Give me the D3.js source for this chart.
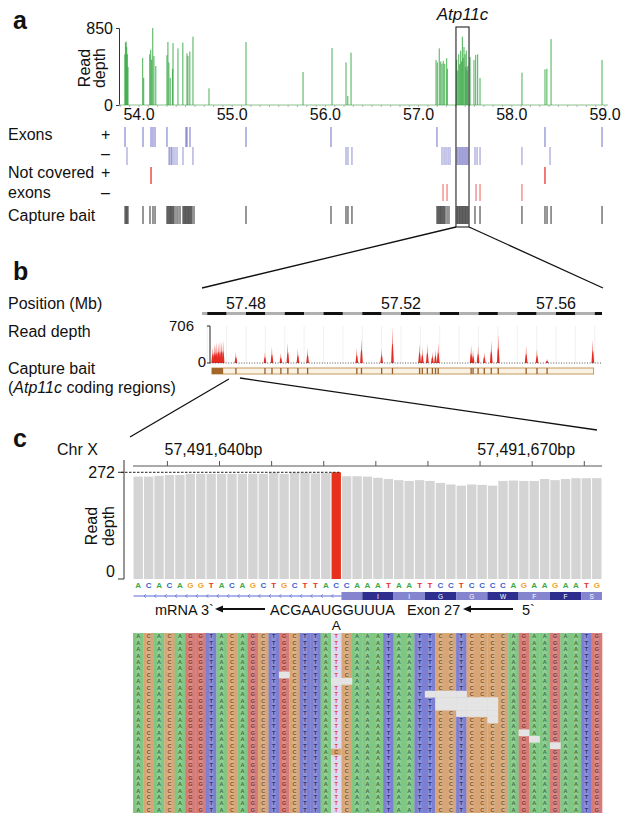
<!DOCTYPE html>
<html><head><meta charset="utf-8">
<script src="https://cdn.jsdelivr.net/npm/d3@7"></script>
<style>
body{margin:0;background:#fff}
svg{display:block}
text{font-family:"Liberation Sans",Arial,Helvetica,sans-serif;fill:#111}
</style>
</head><body>
<svg id="chart" width="629" height="823"></svg>
<script>
// ---------------- DATA ----------------
// Panel a: read depth (chr X, Mb)
const aTicks = [54.0, 55.0, 56.0, 57.0, 58.0, 59.0];
const aDepthMax = 850;
const greenPos = [53.848,53.855,53.862,53.868,53.875,53.882,54.039,54.05,54.115,54.125,54.135,54.147,54.16,54.18,54.30,54.31,54.32,54.335,54.36,54.365,54.418,54.47,54.515,54.525,54.545,54.579,54.751,55.148,55.76,56.071,56.221,56.24,56.275,57.187,57.201,57.222,57.237,57.251,57.265,57.28,57.301,57.308,57.408,57.42,57.43,57.44,57.451,57.46,57.47,57.478,57.487,57.498,57.505,57.512,57.52,57.527,57.552,57.594,57.612,57.633,57.659,58.109,58.356,58.376,58.421,58.968];
const greenDepth = [560,690,700,640,560,420,520,300,560,610,500,850,540,430,550,695,470,300,400,684,625,688,570,540,590,755,184,695,364,629,471,100,578,497,470,625,480,455,486,455,516,400,500,380,560,450,600,480,755,520,640,560,420,600,380,430,530,497,552,560,298,357,393,400,728,497];
const exonPlus = [53.850,54.043,54.129,54.150,54.172,54.300,54.504,54.515,54.547,55.148,56.060,57.197,58.356,58.968];
const exonMinus = [53.871,54.322,54.333,54.349,54.365,54.386,54.408,54.472,54.579,56.221,56.242,56.285,57.251,57.273,57.294,57.316,57.337,57.412,57.422,57.434,57.444,57.455,57.466,57.476,57.487,57.498,57.508,57.519,57.530,57.605,57.627,57.659,58.109,58.410];
const notCovPlus = [54.129, 58.356];
const notCovMinus = [57.262,57.305,57.616,57.659,58.109];
const baitA = [53.850,53.861,53.871,53.882,54.043,54.118,54.150,54.172,54.300,54.311,54.322,54.333,54.343,54.354,54.365,54.376,54.397,54.418,54.440,54.472,54.483,54.494,54.504,54.515,54.526,54.536,54.547,54.558,54.569,54.590,55.148,56.060,56.221,56.242,56.285,57.197,57.208,57.219,57.230,57.240,57.251,57.262,57.273,57.284,57.305,57.326,57.412,57.422,57.434,57.444,57.455,57.466,57.476,57.487,57.498,57.508,57.519,57.530,57.605,57.659,58.109,58.356,58.378,58.421,58.968];
const geneBox = [57.401, 57.541];
const geneName = "Atp11c";

// Panel b: Atp11c zoom
const bTicks = [57.48, 57.52, 57.56];
const bDepthMax = 706;
const redPos = [57.4714,57.4718,57.4722,57.4725,57.4729,57.4733,57.4737,57.4741,57.4774,57.4849,57.4867,57.4890,57.4908,57.4934,57.4959,57.5086,57.5098,57.5150,57.5178,57.5248,57.5255,57.5268,57.5281,57.5289,57.5296,57.5381,57.5386,57.5399,57.5415,57.5433,57.5451,57.5523,57.5551,57.5577,57.5695];
const redDepth = [300,370,330,400,380,420,410,430,210,210,305,190,380,275,275,280,465,265,687,362,290,362,210,250,380,340,250,325,210,420,553,325,265,80,440];
const baitBRange = [57.4712, 57.5697];
const baitBBlock = [57.4712, 57.4741];
const baitBExons = [57.4774,57.4849,57.4867,57.4890,57.4908,57.4934,57.4959,57.5086,57.5098,57.5150,57.5178,57.5248,57.5255,57.5268,57.5281,57.5289,57.5296,57.5381,57.5386,57.5399,57.5415,57.5433,57.5451,57.5523,57.5551,57.5577];

// Panel c: base-level view
const firstPos = 57491632;
const cLabelPos = [57491640, 57491670];
const refSeq = "ACACAGGTACAGCTGCTTACCAAATAATTCCTCCCCAGAAGAATG".split("");
const covC = [261,261,263,265,265,268,268,268,268,268,268,268,268,271,268,271,271,269,270,272,262,262,261,258,255,252,250,252,250,245,241,238,241,240,238,250,251,250,250,255,252,255,257,257,257];
const cDepthMax = 272;
const mutIndex = 19;
const mutBase = "T";
const aminoAcids = ["", "I", "I", "G", "G", "W", "F", "F", "S"];
const codonStarts = [20, 22, 25, 28, 31, 34, 37, 40, 43];
const readRows = 28;
const gaps = [[14,14,6],[19,20,7],[28,31,9],[29,34,10],[29,34,11],[31,34,12],[34,34,13],[37,37,15],[38,38,16],[40,40,17]];
const mismatches = [[19,18,"C"]];

// ---------------- DRAW ----------------
const svg = d3.select("#chart");
function T(x, y, s, o = {}) {
  const t = svg.append("text").attr("x", x).attr("y", y).text(s)
    .attr("font-size", o.size || 16).attr("text-anchor", o.anchor || "start");
  if (o.weight) t.attr("font-weight", o.weight);
  if (o.style) t.attr("font-style", o.style);
  if (o.fill) t.style("fill", o.fill);
  if (o.rot) t.attr("transform", `rotate(${o.rot},${x},${y})`);
  return t;
}
function line(x1, y1, x2, y2, stroke = "#111", w = 1, dash) {
  const l = svg.append("line").attr("x1", x1).attr("y1", y1).attr("x2", x2).attr("y2", y2)
    .attr("stroke", stroke).attr("stroke-width", w);
  if (dash) l.attr("stroke-dasharray", dash);
  return l;
}

// ===== Panel a =====
const xa = d3.scaleLinear().domain([54, 59]).range([139, 605]);
const ya = d3.scaleLinear().domain([0, aDepthMax]).range([105, 28]);
const aLeft = 119, aRight = 608;
T(13, 29, "a", {size: 25, weight: "bold"});

const gA = svg.append("g").attr("transform", `translate(${aLeft},0)`)
  .call(d3.axisLeft(ya).tickValues([0, aDepthMax]).tickSize(3).tickPadding(3));
gA.select(".domain").attr("stroke", "#333");
gA.selectAll(".tick line").attr("stroke", "#333");
gA.selectAll(".tick text").attr("font-size", 16).attr("font-family", '"Liberation Sans",Arial,sans-serif').attr("dy", "0.36em");
T(90, 68, "Read", {anchor: "middle", rot: -90});
T(105, 68, "depth", {anchor: "middle", rot: -90});

line(aLeft, ya(0), aRight, ya(0), "#8cc48c", 1);
svg.append("g").selectAll("line").data(d3.range(53.8, 59.05, 0.1)).join("line")
  .attr("x1", d => xa(d)).attr("x2", d => xa(d)).attr("y1", ya(0)).attr("y2", ya(0) + 2)
  .attr("stroke", "#9a9a9a").attr("stroke-width", 0.7);

svg.append("g").selectAll("rect").data(greenPos).join("rect")
  .attr("x", d => xa(d) - 0.6).attr("width", 1.2)
  .attr("y", (d, i) => ya(greenDepth[i])).attr("height", (d, i) => ya(0) - ya(greenDepth[i]))
  .attr("fill", "#2ca33a").attr("opacity", 0.72);

svg.append("g").selectAll("text").data(aTicks).join("text")
  .attr("x", d => xa(d)).attr("y", 120).attr("text-anchor", "middle").attr("font-size", 16)
  .text(d => d.toFixed(1));

T(8, 140, "Exons"); T(101, 140, "+");
T(101, 159, "–");
T(8, 178, "Not covered"); T(101, 178, "+");
T(8, 198, "exons"); T(101, 198, "–");
T(8, 221, "Capture bait");

function track(data, y0, y1, color, op, w = 1.2) {
  svg.append("g").selectAll("rect").data(data).join("rect")
    .attr("x", d => xa(d) - w / 2).attr("width", w).attr("y", y0).attr("height", y1 - y0)
    .attr("fill", color).attr("opacity", op);
}
track(exonPlus, 127, 147, "#5656bd", 0.7);
track(exonMinus, 147, 165, "#5656bd", 0.6, 1.1);
track(notCovPlus, 167, 184, "#e8302a", 0.8, 1.6);
track(notCovMinus, 184, 201, "#e8302a", 0.7, 1.1);
track(baitA, 206, 224, "#1a1a1a", 0.82, 1.1);

svg.append("rect").attr("x", xa(geneBox[0])).attr("y", 27)
  .attr("width", xa(geneBox[1]) - xa(geneBox[0])).attr("height", 200)
  .attr("fill", "none").attr("stroke", "#222").attr("stroke-width", 1.1);
T((xa(geneBox[0]) + xa(geneBox[1])) / 2, 20, geneName, {anchor: "middle", style: "italic", size: 17});

// ===== Panel b =====
const xb = d3.scaleLinear().domain([57.48, 57.52]).range([246, 401]);
const yb = d3.scaleLinear().domain([0, bDepthMax]).range([363, 326]);
const bLeft = 202, bRight = 602;
line(xa(geneBox[0]), 227, bLeft, 288, "#111", 1.3);
line(xa(geneBox[1]), 227, bRight + 1, 288, "#111", 1.3);

T(13, 280, "b", {size: 25, weight: "bold"});
T(8, 309, "Position (Mb)");
T(8, 337, "Read depth");
T(8, 374, "Capture bait");
const sub = svg.append("text").attr("x", 8).attr("y", 393).attr("font-size", 16);
sub.append("tspan").text("(");
sub.append("tspan").attr("font-style", "italic").text(geneName);
sub.append("tspan").text(" coding regions)");

const segStarts = d3.range(57.465, 57.575, 0.005);
svg.append("g").selectAll("rect").data(segStarts).join("rect")
  .attr("x", d => Math.max(bLeft, xb(d))).attr("y", 312)
  .attr("width", d => Math.max(0, Math.min(bRight, xb(d + 0.005)) - Math.max(bLeft, xb(d))))
  .attr("height", 3)
  .attr("fill", (d, i) => (i % 2 === 1 ? "#111" : "#b0b0b0"));
svg.append("g").selectAll("text").data(bTicks).join("text")
  .attr("x", d => xb(d)).attr("y", 309).attr("text-anchor", "middle").attr("font-size", 16)
  .text(d => d.toFixed(2));

svg.append("g").selectAll("line").data(d3.range(57.47, 57.571, 0.005)).join("line")
  .attr("x1", d => xb(d)).attr("x2", d => xb(d)).attr("y1", yb(bDepthMax)).attr("y2", yb(0))
  .attr("stroke", "#ececec").attr("stroke-width", 0.8);

const hw = 0.00035;
svg.append("g").selectAll("path").data(redPos).join("path")
  .attr("d", (p, i) => {
    const d = redDepth[i];
    return `M${xb(p - hw)},${yb(0)} L${xb(p - hw * 0.55)},${yb(d * 0.4)} L${xb(p - hw * 0.25)},${yb(d * 0.55)} L${xb(p - hw * 0.1)},${yb(d * 0.85)} L${xb(p)},${yb(d)} L${xb(p + hw * 0.15)},${yb(d * 0.55)} L${xb(p + hw * 0.45)},${yb(d * 0.45)} L${xb(p + hw)},${yb(0)} Z`;
  })
  .attr("fill", "#e52b22");

line(bLeft + 8, yb(bDepthMax), bLeft + 8, yb(0), "#222", 1);
line(bLeft + 5, yb(bDepthMax), bLeft + 8, yb(bDepthMax), "#222", 1);
line(bLeft + 5, yb(0), bLeft + 8, yb(0), "#222", 1);
T(194, yb(bDepthMax) + 5, String(bDepthMax), {anchor: "end", size: 15});
T(206, yb(0) + 4, "0", {anchor: "end", size: 15});
line(bLeft + 8, yb(0), bRight, yb(0), "#444", 0.9, "1,1.6");

svg.append("rect").attr("x", xb(baitBRange[0])).attr("y", 368)
  .attr("width", xb(baitBRange[1]) - xb(baitBRange[0])).attr("height", 6)
  .attr("fill", "#f9f1e2").attr("stroke", "#c49a5e").attr("stroke-width", 1);
svg.append("rect").attr("x", xb(baitBBlock[0])).attr("y", 368)
  .attr("width", xb(baitBBlock[1]) - xb(baitBBlock[0])).attr("height", 6).attr("fill", "#a3662b");
svg.append("g").selectAll("line").data(baitBExons).join("line")
  .attr("x1", d => xb(d)).attr("x2", d => xb(d)).attr("y1", 368).attr("y2", 374)
  .attr("stroke", "#9a5d25").attr("stroke-width", 1.3);

// ===== Panel c =====
const idx = d3.range(refSeq.length);
const xc = d3.scaleBand().domain(idx).range([133, 602]).paddingInner(0.1).paddingOuter(0.05);
const step = xc.step(), bw = xc.bandwidth();
const yc = d3.scaleLinear().domain([0, cDepthMax]).range([579, 472.3]);
const cx = i => xc(i) + bw / 2;

line(xb(baitBExons[0]) - 7, 379, 130, 437, "#111", 1.3);
line(xb(baitBExons[0]) + 4, 378, 597, 430, "#111", 1.3);

T(13, 447, "c", {size: 25, weight: "bold"});
T(57, 455, "Chr X");
line(133, 466, 602, 466, "#555", 1);
const rulerIdx = idx.filter(i => (firstPos + i) % 5 === 0);
svg.append("g").selectAll("line").data(rulerIdx).join("line")
  .attr("x1", i => xc(i) + step * 0.25).attr("x2", i => xc(i) + step * 0.25)
  .attr("y1", 461).attr("y2", 466).attr("stroke", "#555");
svg.append("g").selectAll("text").data(cLabelPos).join("text")
  .attr("x", p => xc(p - firstPos) + step * 0.25 - 6).attr("y", 455)
  .attr("text-anchor", "middle").attr("font-size", 16)
  .text(p => d3.format(",")(p) + "bp");

line(124, 460, 124, yc(0), "#333", 1);
line(118, yc(cDepthMax), 124, yc(cDepthMax), "#333", 1);
line(118, yc(0), 124, yc(0), "#333", 1);
T(115, yc(cDepthMax) + 5.5, String(cDepthMax), {anchor: "end"});
T(115, 577, "0", {anchor: "end"});
T(97, 526, "Read", {anchor: "middle", rot: -90});
T(114, 526, "depth", {anchor: "middle", rot: -90});

svg.append("g").selectAll("rect").data(idx).join("rect")
  .attr("x", i => xc(i)).attr("width", bw)
  .attr("y", i => yc(covC[i])).attr("height", i => yc(0) - yc(covC[i]))
  .attr("fill", i => (i === mutIndex ? "#e8301f" : "#d4d4d4"));
line(121, yc(cDepthMax), xc(mutIndex) + bw, yc(cDepthMax), "#222", 1, "2.5,1.5");

const seqColor = {A: "#3daa48", C: "#3b5fd0", G: "#f0a22e", T: "#e5332a"};
svg.append("g").selectAll("text").data(idx).join("text")
  .attr("x", cx).attr("y", 587.5).attr("text-anchor", "middle")
  .attr("font-size", 8).attr("font-weight", "bold")
  .style("fill", i => seqColor[refSeq[i]]).text(i => refSeq[i]);

line(xc(0), 596, xc(codonStarts[0]), 596, "#5a6ad6", 1);
svg.append("g").selectAll("path").data(d3.range(1, codonStarts[0])).join("path")
  .attr("d", i => `M${xc(i) + 1.8},${594.2} L${xc(i)},${596} L${xc(i) + 1.8},${597.8}`)
  .attr("fill", "none").attr("stroke", "#5a6ad6").attr("stroke-width", 0.8);
const cStart = i => xc(codonStarts[i]) - (step - bw) / 2;
const cEnd = i => (i < codonStarts.length - 1 ? cStart(i + 1) : 602);
svg.append("g").selectAll("rect").data(codonStarts).join("rect")
  .attr("x", (d, i) => cStart(i)).attr("width", (d, i) => cEnd(i) - cStart(i))
  .attr("y", 592).attr("height", 8)
  .attr("fill", (d, i) => (i % 2 === 0 ? "#8585cf" : "#2e2e8e"));
svg.append("g").selectAll("text").data(codonStarts).join("text")
  .attr("x", (d, i) => (cStart(i) + cEnd(i)) / 2)
  .attr("y", 598.6).attr("text-anchor", "middle").attr("font-size", 6.5)
  .style("fill", "#fff").text((d, i) => aminoAcids[i]);

function arrowLeft(x1, x2, y) {
  line(x1 + 6, y, x2, y, "#111", 1.8);
  svg.append("path").attr("d", `M${x1},${y} L${x1 + 8},${y - 3.5} L${x1 + 8},${y + 3.5} Z`).attr("fill", "#111");
}
T(155, 615, "mRNA 3`", {size: 14.5});
arrowLeft(215, 265, 609);
T(270, 615, "ACGAAUGGUUUA", {size: 14.5});
T(cx(mutIndex), 630, "A", {size: 13.5, anchor: "middle"});
T(407, 615, "Exon 27", {size: 14.5});
arrowLeft(463, 513, 609);
T(522, 615, "5`", {size: 14.5});

// read alignment
const alTop = 633, alBot = 813;
const rowH = (alBot - alTop) / readRows;
const readSeq = refSeq.map((b, i) => (i === mutIndex ? mutBase : b));
const cellFill = {A: "#80c784", C: "#d8a676", G: "#d77b77", T: "#7c7fd2"};
const cellLetter = {A: "#3f6f3f", C: "#7a5230", G: "#7a3434", T: "#2e2f70"};
const cells = [];
for (let r = 0; r < readRows; r++) for (let c = 0; c < refSeq.length; c++) cells.push({r, c});
const gapSet = new Set();
gaps.forEach(([c0, c1, r]) => { for (let c = c0; c <= c1; c++) gapSet.add(c + "_" + r); });
const mmMap = new Map(mismatches.map(([c, r, b]) => [c + "_" + r, b]));
const al = svg.append("g");
const colX = c => xc(c) - (step - bw) / 2;
al.selectAll("rect.col").data(idx).join("rect").attr("class", "col")
  .attr("x", c => colX(c)).attr("width", step + 0.3)
  .attr("y", alTop).attr("height", alBot - alTop)
  .attr("fill", c => (c === mutIndex ? "#dcdcf1" : cellFill[readSeq[c]]));
al.selectAll("rect.band").data(idx).join("rect").attr("class", "band")
  .attr("x", c => colX(c) + step * 0.3).attr("width", step * 0.4)
  .attr("y", alTop).attr("height", alBot - alTop)
  .attr("fill", "#fff").attr("opacity", c => (c === mutIndex ? 0 : 0.13));
const special = cells.filter(d => mmMap.has(d.c + "_" + d.r));
al.selectAll("rect.mm").data(special).join("rect").attr("class", "mm")
  .attr("x", d => colX(d.c)).attr("width", step).attr("y", d => alTop + d.r * rowH).attr("height", rowH)
  .attr("fill", d => cellFill[mmMap.get(d.c + "_" + d.r)]);
al.selectAll("text").data(cells.filter(d => !gapSet.has(d.c + "_" + d.r))).join("text")
  .attr("x", d => cx(d.c)).attr("y", d => alTop + d.r * rowH + rowH * 0.82)
  .attr("text-anchor", "middle").attr("font-size", 5.5).attr("font-weight", "bold")
  .style("fill", d => {
    const k = d.c + "_" + d.r;
    if (mmMap.has(k)) return cellLetter[mmMap.get(k)];
    return d.c === mutIndex ? "#e0463c" : cellLetter[readSeq[d.c]];
  })
  .text(d => mmMap.get(d.c + "_" + d.r) || readSeq[d.c]);
al.selectAll("rect.gap").data(cells.filter(d => gapSet.has(d.c + "_" + d.r))).join("rect").attr("class", "gap")
  .attr("x", d => colX(d.c)).attr("width", step + 0.4).attr("y", d => alTop + d.r * rowH).attr("height", rowH + 0.3)
  .attr("fill", "#e4e4e4");
</script>
</body></html>
